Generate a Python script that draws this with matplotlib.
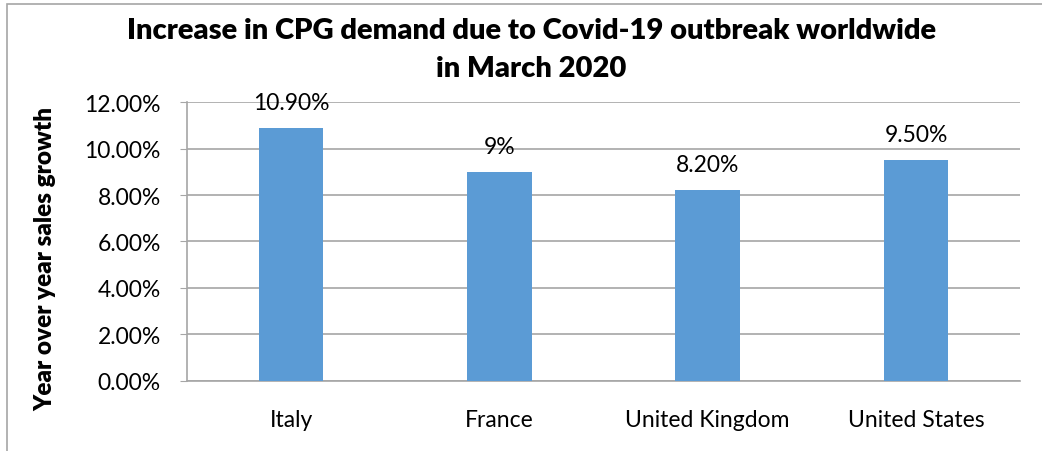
import matplotlib.pyplot as plt
from matplotlib.ticker import PercentFormatter
from matplotlib.patches import Rectangle

plt.rcParams['font.family'] = ['Lato', 'DejaVu Sans']

countries = ['Italy', 'France', 'United Kingdom', 'United States']
growth = [10.9, 9.0, 8.2, 9.5]
labels = ['10.90%', '9%', '8.20%', '9.50%']
yticks = [0, 2, 4, 6, 8, 10, 12]

fig = plt.figure(figsize=(10.42, 4.52), dpi=100)
ax = fig.add_axes([0.1795, 0.155, 0.7995, 0.617])

# outer chart frame (only top/left visible in source)
fig.patches.append(Rectangle((7 / 1042, -0.01), 1.1, 1 - 5 / 452 + 0.01,
                             transform=fig.transFigure, fill=False,
                             edgecolor='#a6a6a6', linewidth=1.2))

x = range(len(countries))
ax.bar(x, growth, width=0.31, color='#5b9bd5', zorder=3)
for xi, v, lab in zip(x, growth, labels):
    ax.text(xi, v + 0.65, lab, ha='center', va='bottom', fontsize=16.5)

ax.set_xlim(-0.5, len(countries) - 0.5)
ax.set_ylim(0, 12)
ax.set_yticks(yticks)
ax.yaxis.set_major_formatter(PercentFormatter(decimals=2))
ax.set_xticks(list(x))
ax.set_xticklabels(countries)
ax.tick_params(axis='x', length=0, labelsize=16.5, pad=20)
ax.tick_params(axis='y', length=5, color='#a6a6a6', labelsize=16.5, pad=14)
ax.grid(axis='y', color='#a6a6a6', linewidth=1.2, zorder=0)
for s in ['top', 'right']:
    ax.spines[s].set_visible(False)
for s in ['left', 'bottom']:
    ax.spines[s].set_color('#a6a6a6')
    ax.spines[s].set_linewidth(1.2)

ax.set_ylabel('Year over year sales growth', fontsize=17.5, fontweight='heavy')
ax.yaxis.set_label_coords(-0.157, 0.44)
fig.suptitle('Increase in CPG demand due to Covid-19 outbreak worldwide\nin March 2020',
             x=0.51, y=0.96, fontsize=21, fontweight='heavy', linespacing=1.55)

fig.savefig('out.png', dpi=100)
